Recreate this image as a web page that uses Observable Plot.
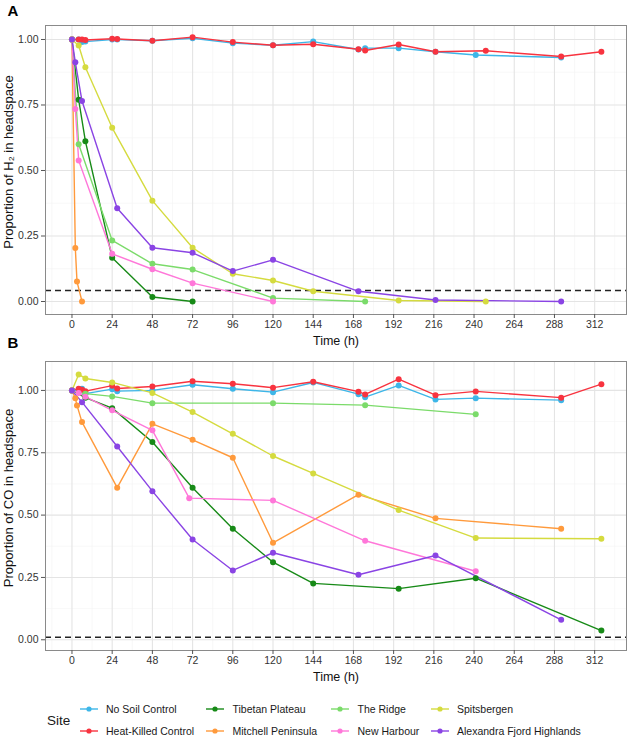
<!DOCTYPE html>
<html><head><meta charset="utf-8">
<script src="https://cdn.jsdelivr.net/npm/d3@7"></script>
<script src="https://cdn.jsdelivr.net/npm/@observablehq/plot@0.6"></script>
<style>
body{margin:0;background:#fff;}
#wrap{position:relative;width:630px;height:737px;overflow:hidden;background:#fff;font-family:"Liberation Sans",Arial,sans-serif;}
#pa{position:absolute;left:0;top:0;}
#pb{position:absolute;left:0;top:336px;}
.lg{position:absolute;font-size:10.5px;color:#1a1a1a;line-height:1;white-space:nowrap;}
</style>
</head><body>
<div id="wrap"><div id="pa"></div><div id="pb"></div><div id="legend"></div></div>
<script>
// ---- categories / colours ----
const sites = ["No Soil Control","Heat-Killed Control","Tibetan Plateau","Mitchell Peninsula","The Ridge","New Harbour","Spitsbergen","Alexandra Fjord Highlands"];
const siteColors = ["#3DB6E8","#F8333F","#178A17","#FF9A3C","#7BDB6A","#FF77D9","#D5DB3F","#8A44E4"];
const xTicks = [0,24,48,72,96,120,144,168,192,216,240,264,288,312];
const xMinor = [-12,12,36,60,84,108,132,156,180,204,228,252,276,300,324];
const yTicks = [0,0.25,0.5,0.75,1];
const yMinor = [0.125,0.375,0.625,0.875];
const legendOrder = [["No Soil Control","Heat-Killed Control"],["Tibetan Plateau","Mitchell Peninsula"],["The Ridge","New Harbour"],["Spitsbergen","Alexandra Fjord Highlands"]];

// ---- Panel A: proportion of H2 (time h, proportion) ----
const h2NoSoil = [[0,1],[4,1.0],[6,0.99],[8,0.992],[24,1.0],[27,1.0],[48,0.995],[72,1.005],[96,0.986],[120,0.978],[144,0.992],[171,0.962],[175,0.967],[195,0.967],[217,0.953],[241,0.941],[292,0.931]];
const h2HeatKilled = [[0,1],[4,1.0],[6,1.0],[8,0.998],[24,1.003],[27,1.002],[48,0.995],[72,1.009],[96,0.99],[120,0.978],[144,0.982],[171,0.963],[175,0.958],[195,0.981],[217,0.953],[247,0.957],[292,0.935],[316,0.953]];
const h2Tibetan = [[0,1],[4,0.77],[8,0.612],[24,0.167],[48,0.017],[72,0]];
const h2Mitchell = [[0,1],[2,0.204],[3,0.076],[6,0]];
const h2Ridge = [[0,1],[4,0.6],[24,0.233],[48,0.144],[72,0.122],[120,0.013],[175,0]];
const h2NewHarbour = [[0,1],[2,0.735],[4,0.538],[24,0.182],[48,0.123],[72,0.07],[120,0]];
const h2Spitsbergen = [[0,1],[4,0.977],[8,0.894],[24,0.663],[48,0.385],[72,0.205],[96,0.106],[120,0.08],[144,0.039],[195,0.004],[247,0]];
const h2Alexandra = [[0,1],[2,0.913],[6,0.765],[27,0.356],[48,0.205],[72,0.186],[96,0.116],[120,0.159],[171,0.039],[217,0.006],[292,0]];
const h2Threshold = 0.042;

// ---- Panel B: proportion of CO ----
const coNoSoil = [[0,1],[4,1.0],[6,1.007],[8,0.987],[24,1.005],[27,0.997],[48,1.0],[72,1.023],[96,1.007],[120,0.993],[144,1.032],[171,0.985],[175,0.973],[195,1.02],[217,0.964],[241,0.969],[292,0.961]];
const coHeatKilled = [[0,1],[4,1.007],[6,1.003],[8,0.997],[24,1.019],[27,1.008],[48,1.016],[72,1.037],[96,1.027],[120,1.011],[144,1.035],[171,0.995],[175,0.984],[195,1.045],[217,0.981],[241,0.996],[292,0.971],[316,1.025]];
const coTibetan = [[0,1],[8,0.971],[24,0.929],[48,0.793],[72,0.61],[96,0.445],[120,0.311],[144,0.226],[195,0.205],[241,0.247],[316,0.037]];
const coMitchell = [[0,1],[2,0.969],[3,0.94],[6,0.873],[27,0.61],[48,0.866],[72,0.802],[96,0.73],[120,0.389],[171,0.582],[217,0.487],[292,0.445]];
const coRidge = [[0,1],[8,0.987],[24,0.976],[48,0.949],[120,0.949],[175,0.941],[241,0.904]];
const coNewHarbour = [[0,1],[4,0.99],[8,0.975],[24,0.92],[48,0.84],[70,0.568],[120,0.559],[175,0.397],[241,0.275]];
const coSpitsbergen = [[0,1],[4,1.064],[8,1.048],[24,1.032],[48,0.99],[72,0.913],[96,0.826],[120,0.737],[144,0.667],[195,0.52],[241,0.408],[316,0.405]];
const coAlexandra = [[0,1],[6,0.953],[27,0.775],[48,0.596],[72,0.402],[96,0.278],[120,0.349],[171,0.261],[217,0.338],[292,0.08]];
const coThreshold = 0.01;

function rowsOf(seriesList){
  return seriesList.flatMap((s,i)=> s.map(([t,v])=>({site:sites[i], t, v})));
}
const rowsA = rowsOf([h2NoSoil,h2HeatKilled,h2Tibetan,h2Mitchell,h2Ridge,h2NewHarbour,h2Spitsbergen,h2Alexandra]);
const rowsB = rowsOf([coNoSoil,coHeatKilled,coTibetan,coMitchell,coRidge,coNewHarbour,coSpitsbergen,coAlexandra]);

const FONT = '"Liberation Sans",Arial,sans-serif';

function panel(rows, yDomain, threshold, yTitle, letter, letterDy){
  return Plot.plot({
    width: 630, height: 350,
    marginLeft: 45, marginRight: 4, marginTop: 25, marginBottom: 36,
    style: {fontFamily: FONT, fontSize: "10.5px", color: "#4d4d4d", background: "none", overflow: "visible"},
    x: {domain: [-15.8, 331], label: null},
    y: {domain: yDomain, label: null},
    color: {domain: sites, range: siteColors},
    marks: [
      Plot.gridX(xMinor, {stroke: "#f3f3f3", strokeOpacity: 1, strokeWidth: 0.6}),
      Plot.gridY(yMinor, {stroke: "#f3f3f3", strokeOpacity: 1, strokeWidth: 0.6}),
      Plot.gridX(xTicks, {stroke: "#e4e4e4", strokeOpacity: 1, strokeWidth: 1.1}),
      Plot.gridY(yTicks, {stroke: "#e4e4e4", strokeOpacity: 1, strokeWidth: 1.1}),
      Plot.ruleY([threshold], {stroke: "#222", strokeWidth: 1.4, strokeDasharray: "6,4"}),
      Plot.line(rows, {x: "t", y: "v", z: "site", stroke: "site", strokeWidth: 1.4}),
      Plot.dot(rows, {x: "t", y: "v", fill: "site", r: 3, stroke: "none"}),
      Plot.frame({stroke: "#8a8a8a", strokeWidth: 1}),
      Plot.axisX(xTicks, {tickSize: 4, tickPadding: 2, fontSize: 10.5, label: null, stroke: "#555", fill: "#333"}),
      Plot.axisY(yTicks, {tickSize: 4, tickPadding: 3, fontSize: 10.5, label: null, tickFormat: d => d.toFixed(2), stroke: "#555", fill: "#333"}),
      Plot.text(["Time (h)"], {frameAnchor: "bottom", text: d => d, dy: 26, lineAnchor: "middle", fontSize: 12.5, fill: "#111"}),
      Plot.text([yTitle], {frameAnchor: "left", text: d => d, dx: -37, dy: -8, rotate: -90, textAnchor: "middle", lineAnchor: "middle", fontSize: 13, fill: "#111"}),
      Plot.text([letter], {frameAnchor: "top-left", text: d => d, dx: -38, dy: letterDy, textAnchor: "start", lineAnchor: "middle", fontSize: 15, fontWeight: "bold", fill: "#000"})
    ]
  });
}

document.getElementById("pa").appendChild(panel(rowsA, [-0.0496, 1.0534], h2Threshold, "Proportion of H\u2082 in headspace", "A", -14));
document.getElementById("pb").appendChild(panel(rowsB, [-0.043, 1.116], coThreshold, "Proportion of CO in headspace", "B", -18));

// ---- legend ----
const lg = document.getElementById("legend");
const colX = [88.5, 215, 340, 439.5];
const rowY = [709, 731];
function add(html, style){ const d = document.createElement("div"); d.className = "lg"; d.innerHTML = html; Object.assign(d.style, style); lg.appendChild(d); return d; }
add("Site", {left: "47px", top: (720.7 - 7) + "px", fontSize: "13.5px"});
legendOrder.forEach((col, ci) => col.forEach((name, ri) => {
  const c = siteColors[sites.indexOf(name)];
  const k = document.createElementNS("http://www.w3.org/2000/svg", "svg");
  k.setAttribute("width", 20); k.setAttribute("height", 10);
  k.style.position = "absolute"; k.style.left = (colX[ci] - 10) + "px"; k.style.top = (rowY[ri] - 5) + "px";
  k.innerHTML = `<line x1="1" y1="5" x2="19" y2="5" stroke="${c}" stroke-width="1.4"/><circle cx="10" cy="5" r="2.6" fill="${c}"/>`;
  lg.appendChild(k);
  add(name, {left: (colX[ci] + 17.5) + "px", top: (rowY[ri] - 5.5) + "px"});
}));
</script>
</body></html>
